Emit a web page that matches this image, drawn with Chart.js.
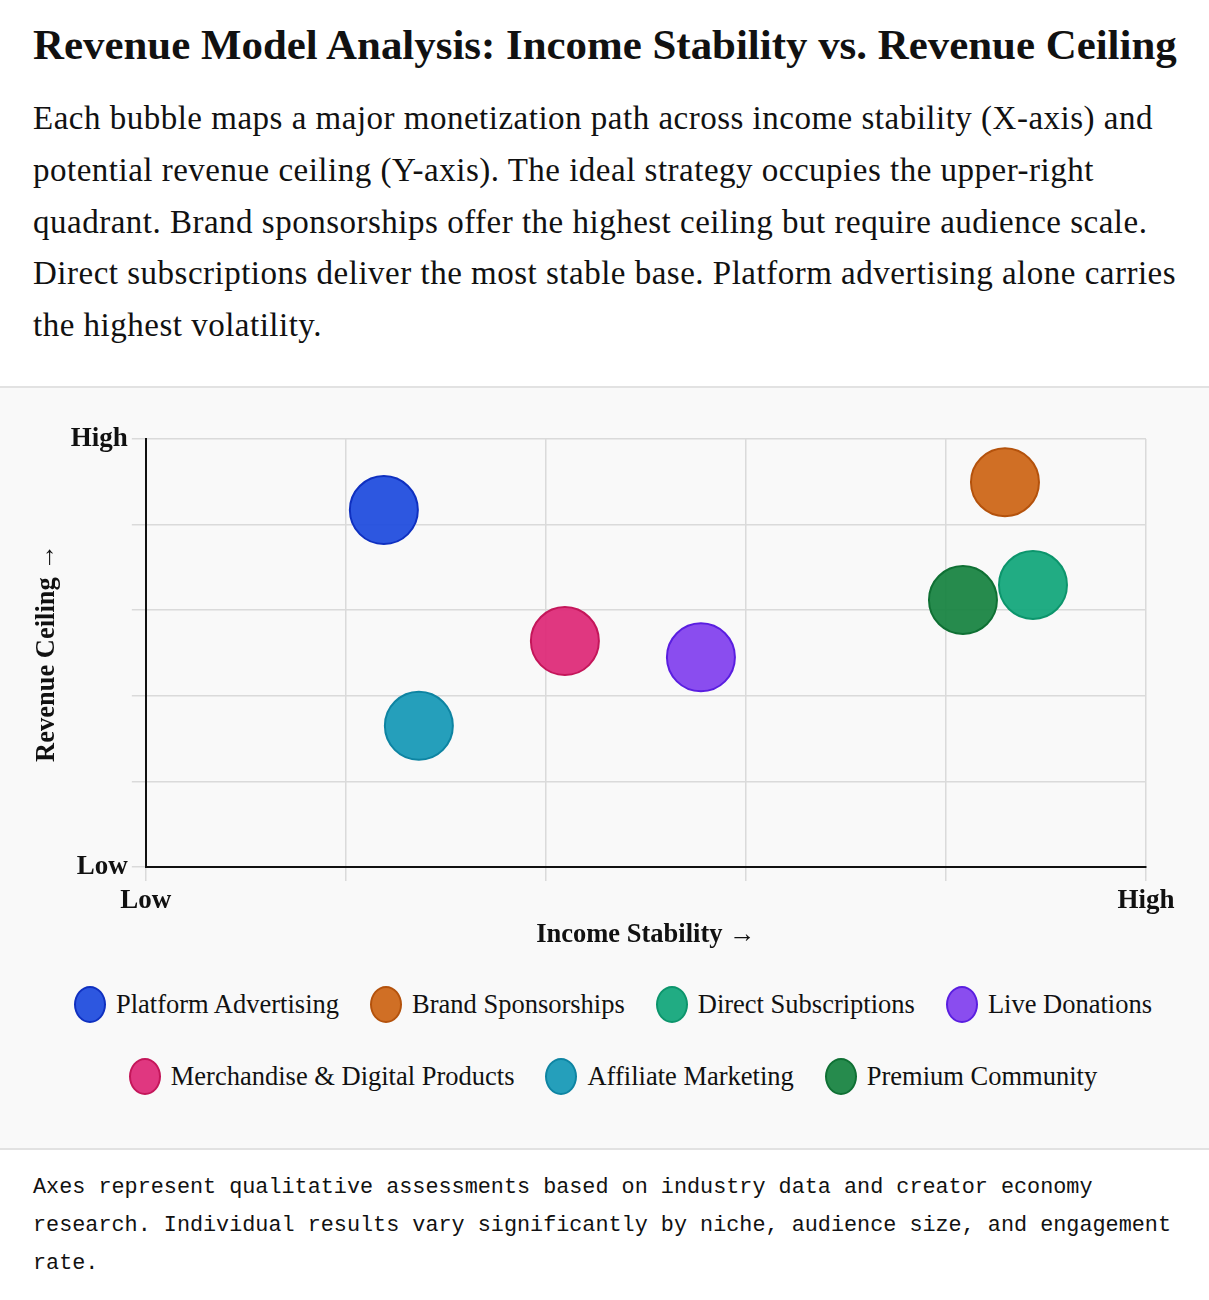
<!DOCTYPE html>
<html lang="en">
<head>
    <meta charset="UTF-8">
    <title>Revenue Model Analysis</title>
    <script src="https://cdn.jsdelivr.net/npm/chart.js"></script>
    <style>
        body {
            margin: 0;
            background: #fff;
            color: #111;
            font-family: "Liberation Serif", serif;
            width: 1209px;
        }
        header {
            padding: 18px 33px 34px 33px;
        }
        h1 {
            font-size: 42.9px;
            font-weight: bold;
            margin: 0 0 21px 0;
            line-height: 54px;
            white-space: nowrap;
        }
        p.intro {
            font-size: 33px;
            line-height: 51.75px;
            letter-spacing: 0.5px;
            margin: 0;
            white-space: nowrap;
        }
        .panel {
            background: #f9f9f9;
            border-top: 2px solid #e2e2e2;
            border-bottom: 2px solid #e2e2e2;
            padding-bottom: 53px;
        }
        .chart-box {
            position: relative;
            height: 566px;
        }
        .legend {
            display: flex;
            flex-wrap: wrap;
            justify-content: center;
            column-gap: 31px;
            row-gap: 35px;
            margin: 32px 0 0 0;
            padding-left: 38px;
            width: 1150px;
            font-size: 26.5px;
        }
        .legend span.item {
            display: flex;
            align-items: center;
            height: 37px;
        }
        .legend span.dot {
            display: inline-block;
            width: 28px;
            height: 33px;
            border-radius: 50%;
            border: 2px solid;
            margin-right: 10px;
        }
        .footer {
            font-family: "Liberation Mono", monospace;
            font-size: 21.8px;
            line-height: 38px;
            padding: 19px 33px;
            margin: 0;
        }
    </style>
</head>
<body>
    <header>
        <h1>Revenue Model Analysis: Income Stability vs. Revenue Ceiling</h1>
        <p class="intro">Each bubble maps a major monetization path across income stability (X-axis) and<br>potential revenue ceiling (Y-axis). The ideal strategy occupies the upper-right<br>quadrant. Brand sponsorships offer the highest ceiling but require audience scale.<br>Direct subscriptions deliver the most stable base. Platform advertising alone carries<br>the highest volatility.</p>
    </header>
    <div class="panel">
        <div class="chart-box">
            <canvas id="bubbleChart"></canvas>
        </div>
        <div class="legend" id="legend"></div>
    </div>
    <p class="footer">Axes represent qualitative assessments based on industry data and creator economy research. Individual results vary significantly by niche, audience size, and engagement rate.</p>

    <script>
        // revenue models, positions (0 = low, 10 = high)
        const models = ['Platform Advertising', 'Brand Sponsorships', 'Direct Subscriptions', 'Live Donations',
                        'Merchandise & Digital Products', 'Affiliate Marketing', 'Premium Community'];
        const stability = [2.38, 8.59, 8.87, 5.55, 4.19, 2.73, 8.17];
        const ceiling = [8.34, 8.99, 6.59, 4.90, 5.28, 3.30, 6.24];
        const bubbleSize = [34, 34, 34, 34, 34, 34, 34];
        const tickLabels = { 0: 'Low', 10: 'High' };

        const fills = ['rgba(29, 74, 222, 0.93)', 'rgba(204, 100, 20, 0.93)', 'rgba(16, 166, 122, 0.93)', 'rgba(128, 62, 238, 0.92)',
                       'rgba(222, 40, 118, 0.93)', 'rgba(20, 152, 182, 0.93)', 'rgba(22, 130, 64, 0.93)'];
        const borders = ['#0f30c0', '#b4520c', '#0c956c', '#5a1ee0', '#c4165a', '#0e84a2', '#0f7034'];

        const datasets = models.map((name, i) => ({
            label: name,
            data: [{ x: stability[i], y: ceiling[i], r: bubbleSize[i] }],
            backgroundColor: fills[i],
            borderColor: borders[i],
            borderWidth: 2,
            hoverRadius: 0
        }));

        const serif = '"Liberation Serif", serif';

        function tickText(value) {
            return tickLabels[value] !== undefined ? tickLabels[value] : '';
        }

        new Chart(document.getElementById('bubbleChart'), {
            type: 'bubble',
            data: { datasets: datasets },
            options: {
                responsive: true,
                maintainAspectRatio: false,
                animation: false,
                layout: {
                    padding: { left: 31, right: 63, top: 51, bottom: 6 }
                },
                scales: {
                    x: {
                        min: 0,
                        max: 10,
                        ticks: {
                            stepSize: 2,
                            autoSkip: false,
                            maxRotation: 0,
                            color: '#111',
                            padding: 4,
                            font: { family: serif, size: 27, weight: 'bold' },
                            callback: tickText
                        },
                        grid: { color: '#dadada', lineWidth: 1.5, tickLength: 14 },
                        border: { color: '#111', width: 2 },
                        title: {
                            display: true,
                            text: 'Income Stability →',
                            color: '#111',
                            padding: { top: 0, bottom: 0 },
                            font: { family: serif, size: 26.5, weight: 'bold', lineHeight: 1.0 }
                        }
                    },
                    y: {
                        min: 0,
                        max: 10,
                        ticks: {
                            stepSize: 2,
                            color: '#111',
                            padding: 4,
                            font: { family: serif, size: 27, weight: 'bold' },
                            callback: tickText
                        },
                        grid: { color: '#dadada', lineWidth: 1.5, tickLength: 14 },
                        border: { color: '#111', width: 2 },
                        title: {
                            display: true,
                            text: 'Revenue Ceiling →',
                            color: '#111',
                            padding: { top: 0, bottom: 4 },
                            font: { family: serif, size: 26.5, weight: 'bold' }
                        }
                    }
                },
                plugins: {
                    legend: { display: false },
                    tooltip: { enabled: false }
                }
            }
        });

        // legend built from the same arrays
        const legendBox = document.getElementById('legend');
        models.forEach((name, i) => {
            const item = document.createElement('span');
            item.className = 'item';
            const dot = document.createElement('span');
            dot.className = 'dot';
            dot.style.background = fills[i];
            dot.style.borderColor = borders[i];
            item.appendChild(dot);
            item.appendChild(document.createTextNode(name));
            legendBox.appendChild(item);
        });
    </script>
</body>
</html>
